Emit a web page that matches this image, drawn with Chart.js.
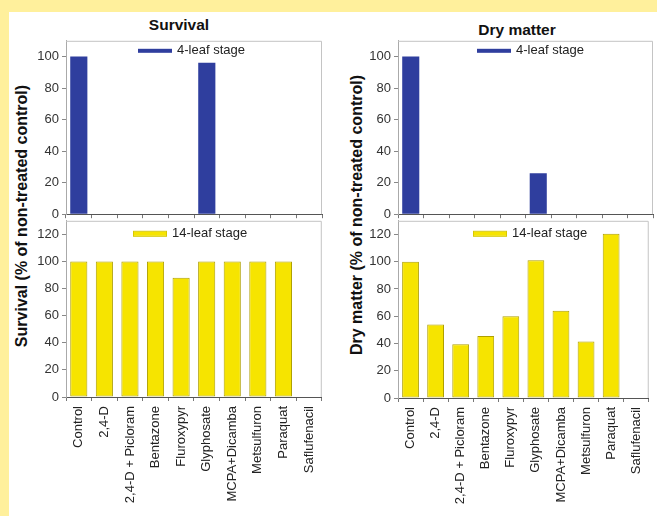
<!DOCTYPE html>
<html>
<head>
<meta charset="utf-8">
<script src="https://cdn.jsdelivr.net/npm/chart.js@4"></script>
<style>
  html, body { margin:0; padding:0; background:#ffffff; }
  body { width:657px; height:516px; position:relative; overflow:hidden; font-family:"Liberation Sans", Arial, sans-serif; }
  .band-top { position:absolute; left:0; top:0; width:657px; height:12px; background:#FFF09C; }
  .band-left { position:absolute; left:0; top:0; width:9px; height:516px; background:#FFF09C; }
  .box { position:absolute; }
  .title { position:absolute; font-weight:bold; font-size:15.5px; line-height:16px; color:#111; transform:translate(-50%,-50%); white-space:nowrap; }
  .ylab { position:absolute; font-weight:bold; font-size:16px; line-height:16px; color:#111; white-space:nowrap; transform:translate(-50%,-50%) rotate(-90deg); }
</style>
</head>
<body>
<div class="band-top"></div>
<div class="band-left"></div>

<div class="title" id="t1" style="left:179px; top:25px;"></div>
<div class="title" id="t2" style="left:517px; top:30px;"></div>
<div class="ylab" id="y1" style="left:22px; top:216px;"></div>
<div class="ylab" id="y2" style="left:357px; top:215px;"></div>

<div class="box" style="left:30px; top:30px; width:300px; height:195px;"><canvas id="c1"></canvas></div>
<div class="box" style="left:30px; top:210px; width:300px; height:302px;"><canvas id="c2"></canvas></div>
<div class="box" style="left:362px; top:30px; width:295px; height:195px;"><canvas id="c3"></canvas></div>
<div class="box" style="left:362px; top:210px; width:295px; height:303px;"><canvas id="c4"></canvas></div>

<script>
// ---- data ----
const categories = ['Control','2,4-D','2,4-D + Picloram','Bentazone','Fluroxypyr','Glyphosate','MCPA+Dicamba','Metsulfuron','Paraquat','Saflufenacil'];
const survival4 = [100, 0, 0, 0, 0, 96, 0, 0, 0, 0];
const survival14 = [100, 100, 100, 100, 88, 100, 100, 100, 100, 0];
const dry4 = [100, 0, 0, 0, 0, 26, 0, 0, 0, 0];
const dry14 = [100, 54, 39.5, 45.5, 60, 101, 64, 41.5, 120.5, 0];
const seriesNames = ['4-leaf stage', '14-leaf stage'];
const panelTitles = ['Survival', 'Dry matter'];
const axisTitles = ['Survival (% of non-treated control)', 'Dry matter (% of non-treated control)'];
const upperTicks = [0, 20, 40, 60, 80, 100];
const lowerTicks = [0, 20, 40, 60, 80, 100, 120];

document.getElementById('t1').textContent = panelTitles[0];
document.getElementById('t2').textContent = panelTitles[1];
document.getElementById('y1').textContent = axisTitles[0];
document.getElementById('y2').textContent = axisTitles[1];

const FONT = '"Liberation Sans", Arial, sans-serif';
const BLUE = '#2F3E9E';
const YELLOW = '#F6E400';
const YBORDER = '#AFA000';

const panelPlugin = {
  id: 'panel',
  afterDatasetsDraw(chart, args, opts) {
    const { ctx, chartArea: a } = chart;
    ctx.save();
    ctx.strokeStyle = '#c4c4c4';
    ctx.lineWidth = 1;
    ctx.beginPath();
    ctx.moveTo(a.left, a.top + 0.5);
    ctx.lineTo(a.right - 0.5, a.top + 0.5);
    ctx.lineTo(a.right - 0.5, a.bottom);
    ctx.stroke();
    // legend
    const ds = chart.data.datasets[0];
    const x0 = a.left + opts.dx;
    const y0 = a.top + opts.dy;
    ctx.fillStyle = opts.swatch;
    ctx.fillRect(x0, y0 - 2, 34, 4);
    if (opts.swatchBorder) {
      ctx.strokeStyle = opts.swatchBorder;
      ctx.strokeRect(x0 + 0.5, y0 - 2.5, 33, 5);
    }
    ctx.fillStyle = '#222';
    ctx.font = '13px ' + FONT;
    ctx.textBaseline = 'middle';
    ctx.textAlign = 'left';
    ctx.fillText(ds.label, x0 + 39, y0);
    ctx.restore();
  }
};

function makeChart(id, values, label, color, border, yMax, tickVals, showX, xHeight, legend) {
  return new Chart(document.getElementById(id), {
    type: 'bar',
    data: {
      labels: categories,
      datasets: [{
        label: label,
        data: values,
        backgroundColor: color,
        borderColor: border || color,
        borderWidth: (c) => (border && c.raw > 0 ? 1 : 0),
        borderSkipped: false,
        categoryPercentage: 1,
        barPercentage: 0.67
      }]
    },
    options: {
      responsive: true,
      maintainAspectRatio: false,
      animation: false,
      layout: { padding: { left: 0, top: 10, right: legend.padRight, bottom: 0 } },
      plugins: {
        legend: { display: false },
        tooltip: { enabled: false },
        panel: legend
      },
      scales: {
        x: {
          offset: true,
          grid: { display: true, drawOnChartArea: false, drawTicks: true, tickLength: 4, offset: true, color: '#777' },
          border: { color: '#555', width: 1 },
          ticks: {
            display: showX,
            minRotation: 90, maxRotation: 90,
            autoSkip: false,
            padding: 5,
            color: '#222',
            font: { family: FONT, size: 13 }
          },
          afterFit(scale) { scale.height = xHeight; }
        },
        y: {
          min: 0, max: yMax,
          grid: { display: true, drawOnChartArea: false, drawTicks: true, tickLength: 4, color: '#888' },
          border: { color: '#aaa', width: 1 },
          afterBuildTicks(scale) { scale.ticks = tickVals.map(v => ({ value: v })); },
          ticks: {
            color: '#333',
            padding: 3,
            font: { family: FONT, size: 13 }
          },
          afterFit(scale) { scale.width = 36; }
        }
      }
    },
    plugins: [panelPlugin]
  });
}

makeChart('c1', survival4, seriesNames[0], BLUE, null, 110, upperTicks, false, 6,
  { dx: 72, dy: 10, swatch: BLUE, padRight: 8 });
makeChart('c2', survival14, seriesNames[1], YELLOW, YBORDER, 130, lowerTicks, true, 115,
  { dx: 67, dy: 13, swatch: YELLOW, swatchBorder: '#d8c800', padRight: 8 });
makeChart('c3', dry4, seriesNames[0], BLUE, null, 110, upperTicks, false, 6,
  { dx: 79, dy: 10, swatch: BLUE, padRight: 4 });
makeChart('c4', dry14, seriesNames[1], YELLOW, YBORDER, 130, lowerTicks, true, 115,
  { dx: 75, dy: 13, swatch: YELLOW, swatchBorder: '#d8c800', padRight: 4 });
</script>
</body>
</html>
